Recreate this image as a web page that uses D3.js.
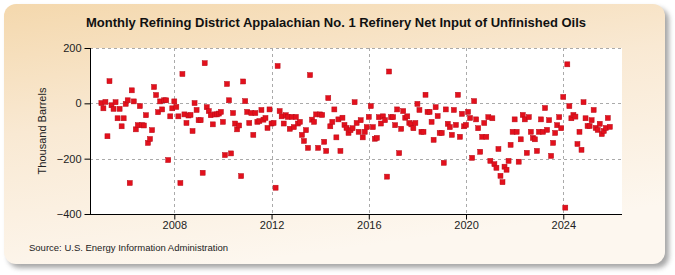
<!DOCTYPE html>
<html><head><meta charset="utf-8">
<script src="https://cdn.jsdelivr.net/npm/d3@7"></script>
<style>
body{margin:0;background:#fff;}
svg{display:block;font-family:"Liberation Sans",Arial,sans-serif;}
</style>
</head><body>
<svg id="chart" width="675" height="275"></svg>
<script>
const chartTitle = "Monthly Refining District Appalachian No. 1 Refinery Net Input of Unfinished Oils";
const yAxisTitle = "Thousand Barrels";
const sourceText = "Source: U.S. Energy Information Administration";
const startYear = 2005; // first value = January of this year, one value per month
const values = [
  1, -18, 5, -119, 80, -7, -20, 4, -54, -20, -83, -54,
  -2, 11, -288, 47, 7, -94, -79, -10, -79, -80, -43, -143,
  -129, -97, 59, 30, -32, 7, -22, 11, 11, -205, -47, -18,
  7, -13, -47, -288, 106, -40, -71, -44, -42, -100, 1, -24,
  -61, -61, -251, 145, -14, -28, -43, -76, -40, -40, -37, -31,
  -67, -187, 70, 11, -181, -35, -73, -94, -80, -263, 79, 8,
  -31, -71, -35, -114, -35, -67, -64, -24, -59, -53, -89, -22,
  -73, -71, -305, 135, -28, -47, -73, -43, -49, -92, -49, -86,
  -49, -73, -67, -114, -136, -97, -161, 102, -59, -67, -40, -161,
  -40, -42, -139, -172, 19, -83, -67, -22, -123, -58, -172, -52,
  -78, -89, -107, -97, -90, 4, -71, -103, -61, -123, -103, -86,
  -49, -10, -86, -128, -125, -50, -73, -47, -61, -265, 115, -50,
  -50, -79, -22, -180, -92, -28, -52, -47, -71, -76, -90, -71,
  -2, -24, -103, -103, 31, -31, -31, -67, -132, -14, -46, -107,
  -107, -215, -22, -74, -86, -114, -24, -78, 31, -121, -38, -83,
  -78, -31, -53, -197, 8, -58, -90, -175, -121, -71, -121, -50,
  -208, -54, -220, -233, -165, -262, -285, -229, -240, -208, -150, -103,
  -58, -103, -211, -130, -42, -58, -179, -50, -103, -125, -130, -172,
  -103, -58, -103, -17, -96, -61, -190, -143, -107, -79, -50, -90,
  23, -377, 141, -10, -54, -42, -48, -147, -103, -168, 4, -54,
  -82, -82, -61, -24, -89, -96, -74, -111, -100, -89, -53, -85
];
const yTickValues = [200, 0, -200, -400];
const xTickYears = [2008, 2012, 2016, 2020, 2024];

const data = values.map((v, i) => ({ t: startYear + i / 12, v }));

const svg = d3.select("#chart");
const plot = { left: 90, right: 622, top: 48, bottom: 214 };

const defs = svg.append("defs");
const grad = defs.append("linearGradient").attr("id", "bg")
  .attr("x1", 0).attr("y1", 0).attr("x2", 0.35).attr("y2", 1);
grad.append("stop").attr("offset", "0%").attr("stop-color", "#f4d8ad");
grad.append("stop").attr("offset", "45%").attr("stop-color", "#f9e9d3");
grad.append("stop").attr("offset", "100%").attr("stop-color", "#fdf7ef");
const blur = defs.append("filter").attr("id", "shadow").attr("x", "-10%").attr("y", "-10%").attr("width", "120%").attr("height", "120%");
blur.append("feGaussianBlur").attr("stdDeviation", 2.5);

// panel shadow + panel
svg.append("rect").attr("x", 8).attr("y", 8).attr("width", 661).attr("height", 260)
  .attr("rx", 12).attr("fill", "#8a8a8a").attr("opacity", 0.75).attr("filter", "url(#shadow)");
svg.append("rect").attr("x", 4).attr("y", 4).attr("width", 661).attr("height", 260)
  .attr("rx", 12).attr("fill", "url(#bg)");

// plot background
svg.append("rect").attr("x", plot.left).attr("y", plot.top)
  .attr("width", plot.right - plot.left).attr("height", plot.bottom - plot.top).attr("fill", "#fff");

const x = d3.scaleLinear().domain([2004.532, 2026.416]).range([plot.left, plot.right]);
const y = d3.scaleLinear().domain([-400, 200]).range([plot.bottom, plot.top]);

// gridlines
const grid = svg.append("g").attr("stroke", "#aaaaaa").attr("stroke-dasharray", "3,3").attr("stroke-width", 1);
grid.selectAll("line.h").data(yTickValues.filter(d => d !== -400)).join("line")
  .attr("x1", plot.left).attr("x2", plot.right)
  .attr("y1", d => Math.round(y(d)) + 0.5).attr("y2", d => Math.round(y(d)) + 0.5);
grid.selectAll("line.v").data(xTickYears).join("line")
  .attr("x1", d => Math.round(x(d)) + 0.5).attr("x2", d => Math.round(x(d)) + 0.5)
  .attr("y1", plot.top).attr("y2", plot.bottom);

// axes
const yAxis = d3.axisLeft(y).tickValues(yTickValues).tickSize(6).tickPadding(3).tickFormat(d3.format("d"));
const gy = svg.append("g").attr("transform", `translate(${plot.left + 0.5},0)`).call(yAxis);
gy.select(".domain").attr("stroke", "#000").attr("d", `M0,${plot.top}V${plot.bottom}`);
gy.selectAll(".tick line").attr("stroke", "#000");
gy.selectAll(".tick text").attr("font-size", 11).attr("fill", "#222").attr("font-family", "Liberation Sans, Arial, sans-serif");

const xAxis = d3.axisBottom(x).tickValues(xTickYears).tickSize(5).tickPadding(2).tickFormat(d3.format("d"));
const gx = svg.append("g").attr("transform", `translate(0,${plot.bottom + 0.5})`).call(xAxis);
gx.select(".domain").attr("stroke", "#000").attr("d", `M${plot.left},0H${plot.right}`);
gx.selectAll(".tick line").attr("stroke", "#000");
gx.selectAll(".tick text").attr("font-size", 11).attr("fill", "#222").attr("font-family", "Liberation Sans, Arial, sans-serif");

// points
const s = 5;
svg.append("g").selectAll("rect").data(data).join("rect")
  .attr("x", d => x(d.t) - s / 2).attr("y", d => y(d.v) - s / 2)
  .attr("width", s).attr("height", s)
  .attr("fill", "#e3101c").attr("stroke", "#b80d18").attr("stroke-width", 0.5);

// texts
svg.append("text").attr("x", 336).attr("y", 27).attr("text-anchor", "middle")
  .attr("font-size", 13).attr("font-weight", "bold").attr("fill", "#111").text(chartTitle);
svg.append("text").attr("transform", `translate(46,${(plot.top + plot.bottom) / 2}) rotate(-90)`)
  .attr("text-anchor", "middle").attr("font-size", 11).attr("fill", "#222").text(yAxisTitle);
svg.append("text").attr("x", 29).attr("y", 251).attr("font-size", 9.5).attr("fill", "#222").text(sourceText);
</script>
</body></html>
